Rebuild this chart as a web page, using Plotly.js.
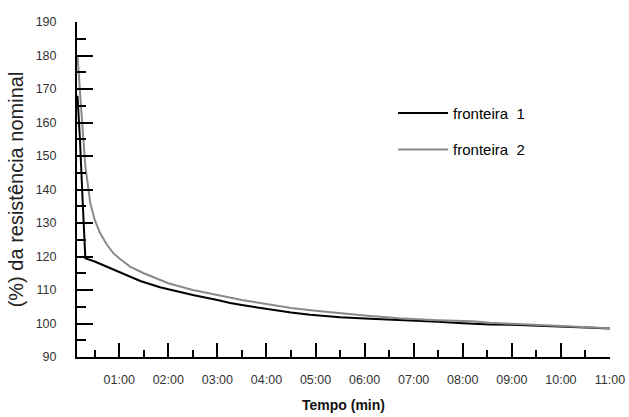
<!DOCTYPE html>
<html>
<head>
<meta charset="utf-8">
<script src="https://cdn.plot.ly/plotly-3.0.1.min.js"></script>
<style>html,body{margin:0;padding:0;background:#fff}#chart{width:629px;height:417px}</style>
</head>
<body>
<div id="chart"></div>
<script>
// Time in minutes
const t1 = [0.15, 0.2, 0.26, 0.31, 0.5, 0.75, 1.0, 1.43, 1.83, 2.0, 2.5, 3.0, 3.26, 3.5, 4.0, 4.5, 4.89, 5.09, 5.5, 6.0, 6.72, 7.5, 8.0, 8.55, 9.0, 9.5, 10.0, 10.5, 11.0];
const fronteira1 = [168, 155, 135, 119.5, 118.5, 117, 115.5, 112.7, 110.8, 110.2, 108.5, 107, 106.1, 105.5, 104.3, 103.3, 102.6, 102.3, 101.9, 101.5, 101.1, 100.5, 100.1, 99.7, 99.6, 99.4, 99.1, 98.8, 98.5];
const t2 = [0.15, 0.2, 0.25, 0.31, 0.41, 0.5, 0.61, 0.75, 0.88, 1.0, 1.22, 1.5, 1.83, 2.0, 2.5, 3.0, 3.26, 3.5, 4.0, 4.5, 5.0, 5.5, 6.0, 6.7, 7.5, 8.2, 8.55, 9.0, 9.5, 10.0, 10.5, 11.0];
const fronteira2 = [180, 168, 159, 147, 136, 131, 127, 123.5, 121, 119.5, 117, 115, 113, 112, 110, 108.5, 107.6, 107, 105.8, 104.6, 103.8, 103, 102.4, 101.6, 101, 100.7, 100.2, 99.9, 99.6, 99.3, 98.9, 98.6];
const xTickVals = [1, 2, 3, 4, 5, 6, 7, 8, 9, 10, 11];
const xTickText = ["01:00", "02:00", "03:00", "04:00", "05:00", "06:00", "07:00", "08:00", "09:00", "10:00", "11:00"];
const xMinorVals = [0.5, 1.5, 2.5, 3.5, 4.5, 5.5, 6.5, 7.5, 8.5, 9.5, 10.5];
const yTickVals = [90, 100, 110, 120, 130, 140, 150, 160, 170, 180, 190];
const yMinorVals = [95, 105, 115, 125, 135, 145, 155, 165, 175, 185];

const font = "Liberation Sans, Arial, sans-serif";
const traces = [
  {x: t1, y: fronteira1, mode: 'lines', name: 'fronteira&nbsp; 1', legendgroup: 'a',
   line: {color: '#000000', width: 2}},
  {x: t2, y: fronteira2, mode: 'lines', name: 'fronteira&nbsp; 2', legendgroup: 'b',
   line: {color: '#8a8a8a', width: 2}}
];
const layout = {
  width: 629, height: 417,
  margin: {l: 77, r: 19, t: 22, b: 60},
  paper_bgcolor: '#fff', plot_bgcolor: '#fff',
  font: {family: font, color: '#222', size: 12},
  showlegend: true,
  legend: {x: 0.593, y: 0.777, xanchor: 'left', yanchor: 'top', bgcolor: 'rgba(0,0,0,0)',
           font: {size: 15, color: '#000'}, traceorder: 'grouped', tracegroupgap: 14, itemwidth: 50},
  xaxis: {
    range: [0.14, 11], showgrid: false, zeroline: false,
    showline: true, linecolor: '#000', linewidth: 2,
    tickmode: 'array', tickvals: xTickVals, ticktext: xTickText,
    ticks: 'inside', ticklen: 14, tickwidth: 2, tickcolor: '#000',
    ticklabelstandoff: 10,
    tickfont: {size: 12.5, color: '#333'},
    minor: {tickmode: 'array', tickvals: xMinorVals, ticks: 'inside', ticklen: 7, tickwidth: 2, tickcolor: '#000', showgrid: false},
    title: {text: '<b>Tempo (min)</b>', font: {size: 14, color: '#111'}, standoff: 14}
  },
  yaxis: {
    range: [90, 190], showgrid: false, zeroline: false,
    showline: true, linecolor: '#000', linewidth: 2,
    tickmode: 'array', tickvals: yTickVals,
    ticks: 'inside', ticklen: 16, tickwidth: 2, tickcolor: '#000',
    ticklabelstandoff: 16,
    tickfont: {size: 12.5, color: '#333'},
    minor: {tickmode: 'array', tickvals: yMinorVals, ticks: 'inside', ticklen: 9, tickwidth: 2, tickcolor: '#000', showgrid: false},
    title: {text: '(%) da resistência nominal', font: {size: 20, color: '#222'}, standoff: 7}
  }
};
Plotly.newPlot('chart', traces, layout, {displayModeBar: false, staticPlot: true});
</script>
</body>
</html>
